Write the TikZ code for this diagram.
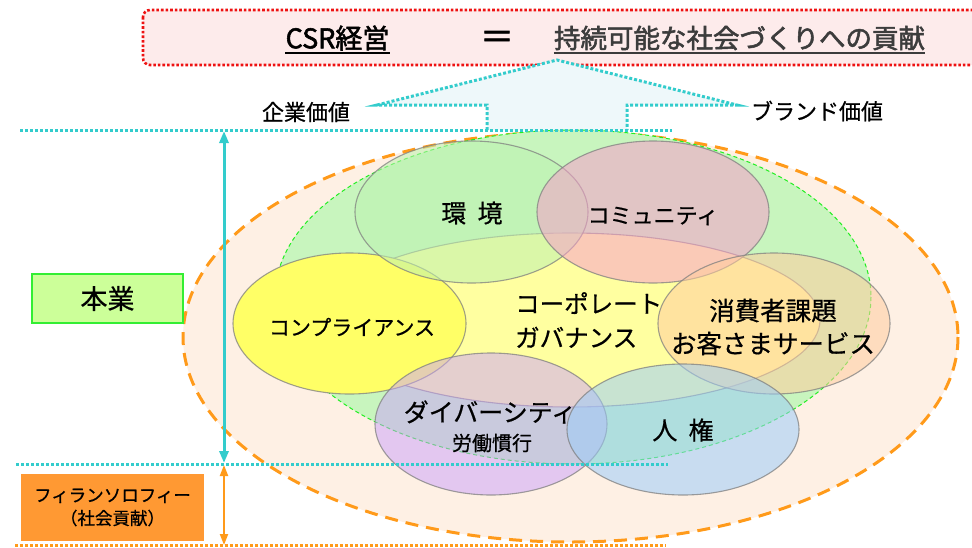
\documentclass[tikz,border=0pt]{standalone}
\usepackage{fontspec}
\setmainfont{Noto Sans CJK JP}
\newfontfamily\jpbold[FakeBold=2]{Noto Sans CJK JP}
\newfontfamily\jpmed[FakeBold=0.6]{Noto Sans CJK JP}
\usetikzlibrary{arrows.meta}
\definecolor{cyanl}{HTML}{33CCCC}
\definecolor{orng}{HTML}{FF9A1A}
\definecolor{peach}{HTML}{FEF0E4}
\definecolor{greenl}{HTML}{22EE22}
\definecolor{greenf}{HTML}{C8F5BE}
\definecolor{pinkbox}{HTML}{FDEBEB}
\definecolor{redd}{HTML}{EE1111}
\definecolor{arrowf}{HTML}{EEF8FA}
\definecolor{hongyo}{HTML}{CCFF99}
\definecolor{hongyob}{HTML}{33EE33}
\definecolor{phil}{HTML}{FF9933}
\definecolor{centralf}{HTML}{FFFFA0}
\definecolor{complf}{HTML}{FFFF66}
\definecolor{envf}{HTML}{BDF2B0}
\definecolor{commf}{HTML}{F79FCB}
\definecolor{consf}{HTML}{FFCC9F}
\definecolor{divf}{HTML}{CAA0FC}
\definecolor{humf}{HTML}{9CCCFA}
\definecolor{toptext}{HTML}{3C3C3C}
\begin{document}
\begin{tikzpicture}[x=1pt,y=-1pt,
  circ/.style={draw=gray, line width=1.1pt, draw opacity=0.75, fill opacity=0.55},
  lbl/.style={inner sep=0pt, text=black},
  cyandot/.style={cyanl, line width=3pt, dash pattern=on 3pt off 2pt},
  orangedot/.style={orng, line width=3pt, dash pattern=on 3pt off 2pt}]
\useasboundingbox (0,0) rectangle (972,547);

% top red dotted box
\draw[redd, line width=2.6pt, dash pattern=on 2.6pt off 2pt, fill=pinkbox, rounded corners=7pt]
  (143,10) rectangle (985,65);
\node[lbl, font=\jpbold\fontsize{27}{27}\selectfont] (csr) at (337.5,38) {CSR経営};
\node[lbl, font=\jpbold\fontsize{34}{34}\selectfont] (eq) at (497,40) {＝};
\node[lbl, text=toptext, font=\jpbold\fontsize{26.5}{27}\selectfont] (goal) at (739.5,38) {持続可能な社会づくりへの貢献};
\draw[line width=1.8pt] ([yshift=-5pt]csr.base west) -- ([yshift=-5pt]csr.base east);
\draw[toptext, line width=1.8pt] ([yshift=-5pt]goal.base west) -- ([yshift=-5pt]goal.base east);

% big upward arrow
\coordinate (a1) at (487,130);
\coordinate (a2) at (487,105);
\coordinate (a3) at (377,105);
\coordinate (a4) at (557,60);
\coordinate (a5) at (737,105);
\coordinate (a6) at (627,105);
\coordinate (a7) at (627,130);
\fill[arrowf] (a1) -- (a2) -- (a3) -- (a4) -- (a5) -- (a6) -- (a7) -- cycle;
\draw[cyandot] (a1) -- (a2) -- (a3) -- (a4) -- (a5) -- (a6) -- (a7);

\node[lbl, font=\jpmed\fontsize{22}{22}\selectfont] (kigyo) at (306,112) {企業価値};
\node[lbl, font=\jpmed\fontsize{22}{22}\selectfont] (brand) at (817,111) {ブランド価値};

% outer ellipses
\draw[orng, line width=3pt, dash pattern=on 13pt off 8pt, fill=peach]
  (570.5,337) ellipse [x radius=387.5, y radius=205];
\draw[greenl, line width=1pt, dash pattern=on 4pt off 3pt, fill=greenf]
  (573,297) ellipse [x radius=298, y radius=167];

% central
\draw[circ, fill=centralf, fill opacity=1] (570,320) ellipse [x radius=250, y radius=87];
% surrounding
\draw[circ, fill=complf, fill opacity=1] (349.5,323.5) ellipse [x radius=116.5, y radius=70.5];
\draw[circ, fill=envf] (471.5,212) ellipse [x radius=116.5, y radius=71];
\draw[circ, fill=commf] (653,212) ellipse [x radius=116, y radius=71];
\draw[circ, fill=consf] (774,323.5) ellipse [x radius=116, y radius=70.5];
\draw[circ, fill=divf, fill opacity=0.5] (491,424) ellipse [x radius=116, y radius=71];
\draw[circ, fill=humf] (683,429.5) ellipse [x radius=116, y radius=65.5];

% labels in ellipses
\node[lbl, font=\jpmed\fontsize{25}{25}\selectfont] (env) at (472,213) {環\hspace{0.45em}境};
\node[lbl, font=\jpmed\fontsize{22}{22}\selectfont] (comm) at (653,216) {コミュニティ};
\node[lbl, font=\jpmed\fontsize{21}{21}\selectfont] (compl) at (352,327) {コンプライアンス};
\node[lbl, font=\jpmed\fontsize{25.5}{33}\selectfont, align=center] (cons) at (773,327) {消費者課題\\お客さまサービス};
\node[lbl, font=\jpmed\fontsize{24.5}{34}\selectfont, align=left, anchor=west] (gov) at (515,320) {コーポレート\\ガバナンス};
\node[lbl, font=\jpmed\fontsize{25}{25}\selectfont] (div) at (490,412) {ダイバーシティ};
\node[lbl, font=\jpmed\fontsize{20}{20}\selectfont] (labor) at (492,443) {労働慣行};
\node[lbl, font=\jpmed\fontsize{25}{25}\selectfont] (hum) at (683,430) {人\hspace{0.45em}権};

% horizontal guide lines
\coordinate (l1a) at (20,130);
\coordinate (l1b) at (672,130);
\coordinate (l2a) at (16,464);
\coordinate (l2b) at (668,464);
\coordinate (l3a) at (15,545.5);
\coordinate (l3b) at (666,545.5);
\draw[cyandot] (l1a) -- (l1b);
\draw[cyandot] (l2a) -- (l2b);
\draw[orangedot] (l3a) -- (l3b);

% vertical arrows
\coordinate (v1) at (224,131);
\coordinate (v2) at (224,463);
\coordinate (v3) at (224,465);
\coordinate (v4) at (224,545);
\draw[cyanl, line width=3pt, {Triangle[length=12pt,width=9pt]}-{Triangle[length=12pt,width=9pt]}] (v1) -- (v2);
\draw[orng, line width=2pt, {Triangle[length=11pt,width=8pt]}-{Triangle[length=11pt,width=8pt]}] (v3) -- (v4);

% side boxes
\node[draw=hongyob, line width=1.6pt, fill=hongyo, minimum width=151pt, minimum height=49pt,
  inner sep=0pt, font=\jpmed\fontsize{27}{27}\selectfont] (hon) at (107.5,298.5) {本業};
\node[fill=phil, minimum width=183pt, minimum height=67pt, inner sep=0pt,
  font=\jpmed\fontsize{17.5}{23}\selectfont, align=center] (phi) at (112.5,507.5) {フィランソロフィー\\（社会貢献）};
\end{tikzpicture}
\end{document}
